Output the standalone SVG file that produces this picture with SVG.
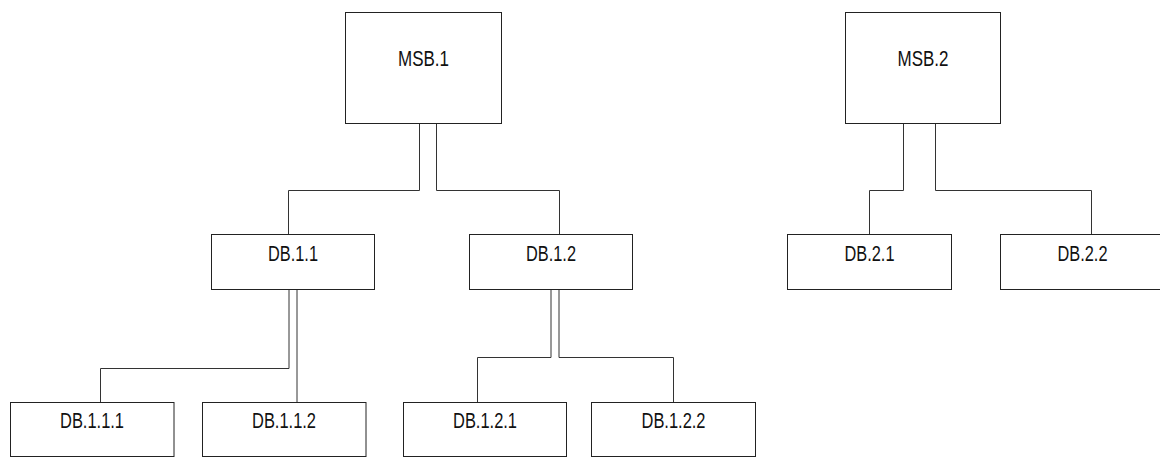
<svg xmlns="http://www.w3.org/2000/svg" width="1160" height="457" viewBox="0 0 1160 457">
<style>
.box{fill:#fff;stroke:#222;stroke-width:1}
.lbl{font-family:"Liberation Sans",Arial,sans-serif;font-size:22px;fill:#111;text-anchor:middle}
.con{fill:none;stroke:#333;stroke-width:1}
</style>
<rect width="1160" height="457" fill="#fff"/>
<g id="connectors">
<path class="con" d="M419.5,123 V190.5 H288.5 V234"/>
<path class="con" d="M436.5,123 V190.5 H559.5 V234"/>
<path class="con" d="M289,290 V368.5 H100.5 V402"/>
<path class="con" d="M297,290 V402"/>
<path class="con" d="M551,290 V357.5 H477.5 V402"/>
<path class="con" d="M559,290 V357.5 H673.5 V402"/>
<path class="con" d="M903.5,123 V190.5 H869.5 V234"/>
<path class="con" d="M935.5,123 V190.5 H1091.5 V234"/>
</g>
<g id="msb1"><rect class="box" x="345.5" y="12.5" width="156" height="111"/><text class="lbl" x="423.5" y="66" textLength="51" lengthAdjust="spacingAndGlyphs">MSB.1</text></g>
<g id="msb2"><rect class="box" x="845.5" y="12.5" width="155" height="111"/><text class="lbl" x="923" y="66" textLength="51" lengthAdjust="spacingAndGlyphs">MSB.2</text></g>
<g id="db11"><rect class="box" x="211.5" y="234.5" width="163" height="55"/><text class="lbl" x="293" y="261" textLength="50" lengthAdjust="spacingAndGlyphs">DB.1.1</text></g>
<g id="db12"><rect class="box" x="469.5" y="234.5" width="163" height="55"/><text class="lbl" x="551" y="261" textLength="50" lengthAdjust="spacingAndGlyphs">DB.1.2</text></g>
<g id="db21"><rect class="box" x="787.5" y="234.5" width="164" height="55"/><text class="lbl" x="869.5" y="261" textLength="50" lengthAdjust="spacingAndGlyphs">DB.2.1</text></g>
<g id="db22"><rect class="box" x="1000.5" y="234.5" width="164" height="55"/><text class="lbl" x="1082.5" y="261" textLength="50" lengthAdjust="spacingAndGlyphs">DB.2.2</text></g>
<g id="db111"><rect class="box" x="10.5" y="402.5" width="163.5" height="54"/><text class="lbl" x="92" y="428" textLength="64" lengthAdjust="spacingAndGlyphs">DB.1.1.1</text></g>
<g id="db112"><rect class="box" x="202.5" y="402.5" width="163.5" height="54"/><text class="lbl" x="284" y="428" textLength="64" lengthAdjust="spacingAndGlyphs">DB.1.1.2</text></g>
<g id="db121"><rect class="box" x="403.5" y="402.5" width="163" height="54"/><text class="lbl" x="485" y="428" textLength="64" lengthAdjust="spacingAndGlyphs">DB.1.2.1</text></g>
<g id="db122"><rect class="box" x="591.5" y="402.5" width="164" height="54"/><text class="lbl" x="673.5" y="428" textLength="64" lengthAdjust="spacingAndGlyphs">DB.1.2.2</text></g>
</svg>
